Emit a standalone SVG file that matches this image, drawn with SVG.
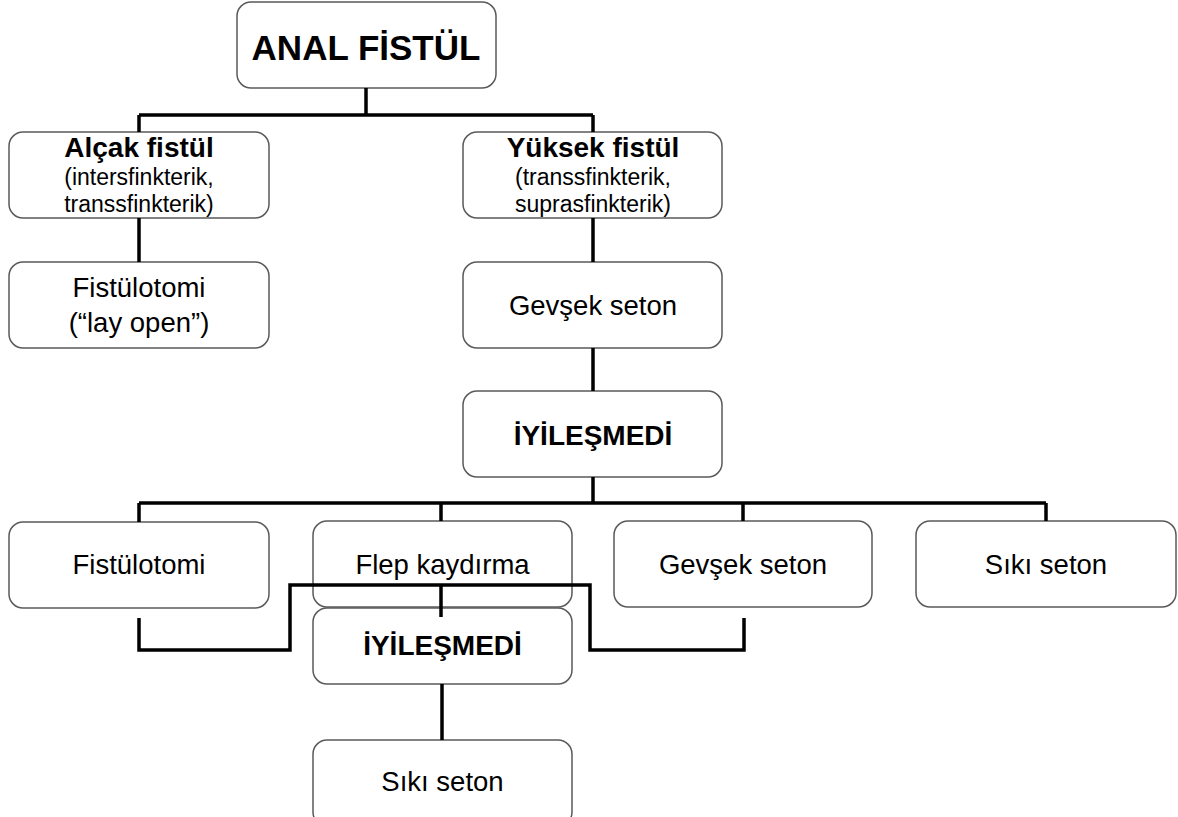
<svg xmlns="http://www.w3.org/2000/svg" width="1178" height="817" viewBox="0 0 1178 817">
<style>
.box{fill:#fff;stroke:#5a5a5a;stroke-width:1.5}
.t{font-family:"Liberation Sans",Arial,sans-serif;fill:#000;text-anchor:middle}
.r{font-size:27.5px}
.s{font-size:23px}
.b{font-weight:bold;font-size:28px}
.conn{fill:none;stroke:#000;stroke-width:3.5;stroke-linejoin:miter}
</style>
<rect width="1178" height="817" fill="#fff"/>
<g id="anal-fistul">
<rect class="box" x="237" y="2" width="259" height="86" rx="14"/>
<text class="t" x="366" y="60" style="font-size:35px;font-weight:bold">ANAL FİSTÜL</text>
</g>
<g id="alcak-fistul">
<rect class="box" x="9" y="132" width="260" height="86" rx="14"/>
<text class="t b" x="139" y="157">Alçak fistül</text>
<text class="t s" x="139" y="185">(intersfinkterik,</text>
<text class="t s" x="139" y="212">transsfinkterik)</text>
</g>
<g id="fistulotomi-lay-open">
<rect class="box" x="9" y="262" width="260" height="86" rx="14"/>
<text class="t r" x="139" y="297">Fistülotomi</text>
<text class="t r" x="139" y="332">(“lay open”)</text>
</g>
<g id="yuksek-fistul">
<rect class="box" x="463" y="132" width="259" height="86" rx="14"/>
<text class="t b" x="593" y="157">Yüksek fistül</text>
<text class="t s" x="593" y="185">(transsfinkterik,</text>
<text class="t s" x="593" y="212">suprasfinkterik)</text>
</g>
<g id="gevsek-seton-1">
<rect class="box" x="463" y="262" width="259" height="86" rx="14"/>
<text class="t r" x="593" y="315">Gevşek seton</text>
</g>
<g id="iyilesmedi-1">
<rect class="box" x="463" y="391" width="259" height="86" rx="14"/>
<text class="t b" x="593" y="445">İYİLEŞMEDİ</text>
</g>
<g id="fistulotomi">
<rect class="box" x="9" y="522" width="260" height="86" rx="14"/>
<text class="t r" x="139" y="574">Fistülotomi</text>
</g>
<g id="flep-kaydirma">
<rect class="box" x="313" y="521" width="259" height="86" rx="14"/>
<text class="t r" x="442.5" y="574">Flep kaydırma</text>
</g>
<g id="gevsek-seton-2">
<rect class="box" x="614" y="521" width="258" height="86" rx="14"/>
<text class="t r" x="743" y="574">Gevşek seton</text>
</g>
<g id="siki-seton-1">
<rect class="box" x="916" y="521" width="260" height="86" rx="14"/>
<text class="t r" x="1046" y="574">Sıkı seton</text>
</g>
<g id="iyilesmedi-2">
<rect class="box" x="313" y="608" width="259" height="76" rx="14"/>
<text class="t b" x="442.5" y="655">İYİLEŞMEDİ</text>
</g>
<g id="siki-seton-2">
<rect class="box" x="313" y="740" width="259" height="86" rx="14"/>
<text class="t r" x="442.5" y="791">Sıkı seton</text>
</g>
<g id="connectors">
<path class="conn" d="M366 88V115M139 115H593M139 115V132M593 115V132"/>
<path class="conn" d="M139 218V262"/>
<path class="conn" d="M593 218V262M593 348V391M593 477V503"/>
<path class="conn" d="M139 503H1046M139 503V522M441 503V521M743 503V521M1046 503V521"/>
<path class="conn" d="M139 618V650H290V585H590V650H744V618"/>
<path class="conn" d="M441 585V617"/>
<path class="conn" d="M442 684V740"/>
</g>
</svg>
